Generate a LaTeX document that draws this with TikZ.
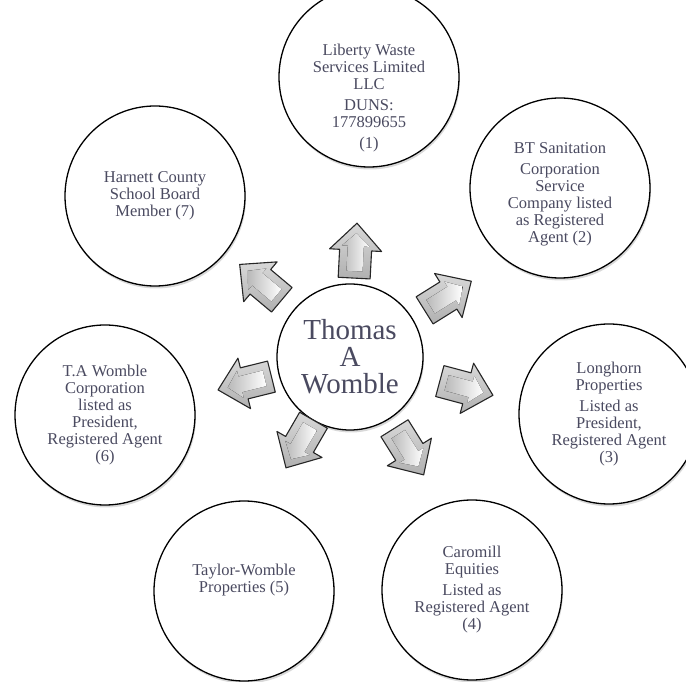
\documentclass[tikz,border=0pt]{standalone}
\usepackage{fontspec}
\setmainfont{Liberation Serif}
\usetikzlibrary{calc,shadows}
\definecolor{inktext}{HTML}{4A4A60}
\tikzset{
	outer/.style={circle, draw, line width=1.3pt, fill=white, minimum size=180pt, inner sep=0pt,
		align=center, text=inktext, font=\fontsize{16.5}{17}\selectfont,
		drop shadow={opacity=0.3, shadow xshift=1pt, shadow yshift=-2.5pt}},
	hub/.style={outer, minimum size=146pt, font=\fontsize{29}{27}\selectfont},
	txt/.style={align=center, text=inktext, font=\fontsize{16.5}{17}\selectfont},
	arrowrim/.style={draw=black!85, line width=1.1pt, line join=round, top color=gray!30, bottom color=gray!62},
	arrowcore/.style={left color=gray!55, right color=white},
	pics/blockarrow/.style={code={
		\draw[arrowrim] (-27,-16)--(1,-16)--(1,-26)--(28,0)--(1,26)--(1,16)--(-27,16)--cycle;
		\fill[arrowcore] (-20,-8)--(5,-8)--(5,-14)--(18,0)--(5,14)--(5,8)--(-20,8)--cycle;
	}}
}
\begin{document}
\begin{tikzpicture}[x=1pt,y=1pt]
		\useasboundingbox (0,0) rectangle (686,681);
		\node[hub] (c) at (350,324) {Thomas\\A\\Womble};
		\node[outer, label={[txt,yshift=-21pt]center:{Liberty Waste\\Services Limited\\LLC\\[4pt]DUNS:\\177899655\\[4pt](1)}}] (o1) at (369,604) {};
		\node[outer] (o2) at (560,493) {\\[6pt]BT Sanitation\\[4pt]Corporation\\Service\\Company listed\\as Registered\\Agent (2)};
		\node[outer] (o3) at (609,267) {Longhorn\\Properties\\[4pt]Listed as\\President,\\Registered Agent\\(3)};
		\node[outer] (o4) at (472,91) {Caromill\\Equities\\[4pt]Listed as\\Registered Agent\\(4)};
		\node[outer, label={[txt,yshift=11pt]center:{Taylor-Womble\\Properties (5)}}] (o5) at (244,90) {};
		\node[outer] (o6) at (105,266) {T.A Womble\\Corporation\\listed as\\President,\\Registered Agent\\(6)};
		\node[outer] (o7) at (155,485) {Harnett County\\School Board\\Member (7)};
		\foreach \ang/\dist in {87/106, 32/115, -15/120, -58/111, -120/100, 194/108, 140/116}
			\pic[rotate=\ang] at ($(c)+(\ang:\dist)$) {blockarrow};
	\end{tikzpicture}
\end{document}
